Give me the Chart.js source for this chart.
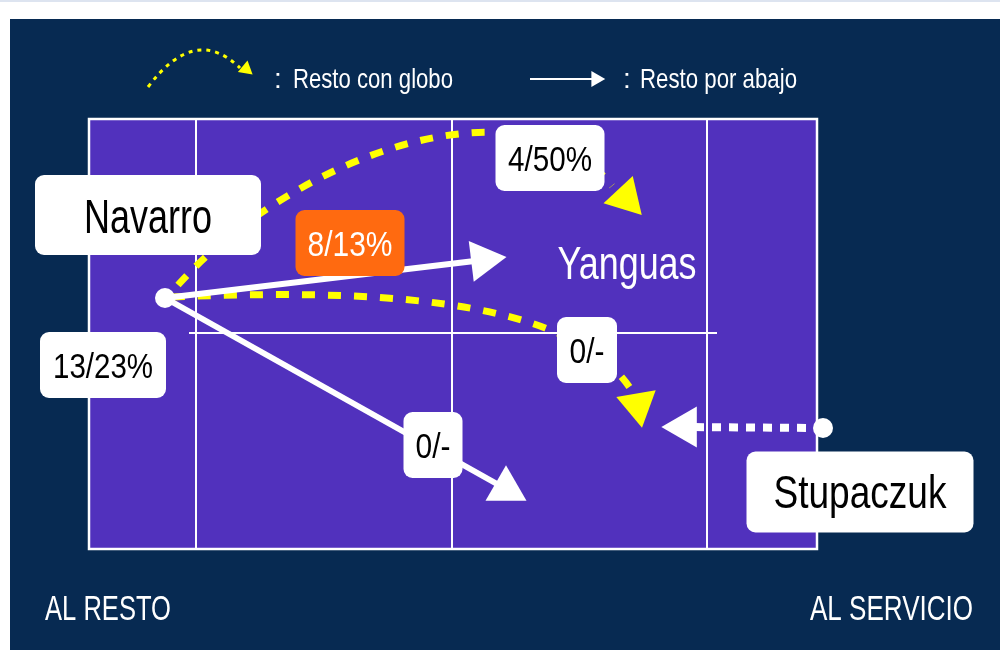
<!DOCTYPE html>
<html>
<head>
<meta charset="utf-8">
<script src="https://cdn.jsdelivr.net/npm/chart.js@4"></script>
<style>
  body { margin: 0; background: #fff; }
  #wrap { width: 1000px; height: 650px; }
</style>
</head>
<body>
<div id="wrap"><canvas id="court"></canvas></div>
<script>
// layout units: the frame is 1000 x 650, y grows downwards
const legendText = ['Resto con globo', 'Resto por abajo'];
const sideText = ['AL RESTO', 'AL SERVICIO'];

const playerNames = ['Navarro', 'Yanguas', 'Stupaczuk'];
const playerDots = [{ x: 165, y: 298 }, { x: 823, y: 428 }];

const courtX = [89, 817];
const courtY = [119, 549];
const courtLinesX = [196, 452, 707];
const centreLineX = [189, 717];
const centreLineY = 333;

// straight returns: start, arrow head centre, head angle (deg)
const flatFrom = [[165, 298], [165, 298], [823, 428]];
const flatTo = [[483, 260], [506, 489], [685, 427]];
const flatAngle = [-7, 30, 180];
const flatDotted = [false, false, true];

// lobs: bezier points, arrow head centre, head angle (deg)
const lobCurves = [
  [[178, 285], [290, 160], [520, 70], [612, 186]],
  [[172, 297], [350, 290], [565, 292], [630, 388]]
];
const lobHeads = [[626, 198], [638, 405]];
const lobAngle = [47, 80];

// return stats
const statText = ['8/13%', '4/50%', '0/-', '0/-', '13/23%'];
const statX = [350, 550, 433, 587, 103];
const statY = [243, 158, 445, 350, 365];
const statW = [109, 109, 59, 60, 126];
const statTextW = [85, 84, 35, 35, 100];

// name tags (Navarro, Stupaczuk) and Yanguas without tag
const tagX = [148, 860];
const tagY = [215, 492];
const tagW = [226, 227];
const tagH = [80, 81];
const yanguasPos = [627, 263];

const FONT = '"Liberation Sans", Arial, sans-serif';
const NAVY = '#072a52';
const PURPLE = '#5131bd';
const YELLOW = '#ffff00';
const ORANGE = '#ff6a10';

function P(chart, x, y) {
  return [chart.scales.x.getPixelForValue(x), chart.scales.y.getPixelForValue(y)];
}

// y is the vertical centre of the capitals; width squeezes the text to a condensed look
function label(ctx, str, x, y, size, color, align, width) {
  ctx.save();
  ctx.font = size + 'px ' + FONT;
  ctx.fillStyle = color;
  ctx.textBaseline = 'alphabetic';
  ctx.textAlign = 'left';
  const w = ctx.measureText(str).width;
  const k = width ? width / w : 1;
  const drawn = w * k;
  let left = x - drawn / 2;
  if (align === 'left') left = x;
  if (align === 'right') left = x - drawn;
  ctx.translate(left, y + size * 0.358);
  ctx.scale(k, 1);
  ctx.fillText(str, 0, 0);
  ctx.restore();
}

function head(ctx, cx, cy, deg, side, color) {
  const r = side / Math.sqrt(3);
  const a = deg * Math.PI / 180;
  ctx.fillStyle = color;
  ctx.beginPath();
  for (let k = 0; k < 3; k++) {
    const t = a + k * 2 * Math.PI / 3;
    ctx.lineTo(cx + r * Math.cos(t), cy + r * Math.sin(t));
  }
  ctx.closePath();
  ctx.fill();
}

function tag(ctx, cx, cy, w, h, fill) {
  ctx.fillStyle = fill;
  ctx.beginPath();
  ctx.roundRect(cx - w / 2, cy - h / 2, w, h, 9);
  ctx.fill();
}

const courtPlugin = {
  id: 'court',
  beforeDraw(chart) {
    const ctx = chart.ctx;
    ctx.save();
    ctx.fillStyle = '#fff';
    ctx.fillRect(0, 0, chart.width, chart.height);
    ctx.fillStyle = '#dde4f0';
    ctx.fillRect(0, 0, chart.width, 2);
    const [x0, y0] = P(chart, 10, 19);
    const [x1, y1] = P(chart, 1000, 650);
    ctx.fillStyle = NAVY;
    ctx.fillRect(x0, y0, x1 - x0, y1 - y0);
    ctx.restore();
  },
  beforeDatasetsDraw(chart) {
    const ctx = chart.ctx;
    ctx.save();
    const [l, t] = P(chart, courtX[0], courtY[0]);
    const [r, b] = P(chart, courtX[1], courtY[1]);
    ctx.fillStyle = PURPLE;
    ctx.fillRect(l, t, r - l, b - t);
    ctx.strokeStyle = '#fff';
    ctx.lineWidth = 2;
    courtLinesX.forEach(v => {
      const [x] = P(chart, v, 0);
      ctx.beginPath();
      ctx.moveTo(x, t);
      ctx.lineTo(x, b);
      ctx.stroke();
    });
    const [cl, cy] = P(chart, centreLineX[0], centreLineY);
    const [cr] = P(chart, centreLineX[1], centreLineY);
    ctx.beginPath();
    ctx.moveTo(cl, cy);
    ctx.lineTo(cr, cy);
    ctx.stroke();
    ctx.lineWidth = 2.5;
    ctx.strokeRect(l, t, r - l, b - t);

    // lobs
    ctx.strokeStyle = YELLOW;
    ctx.lineWidth = 7;
    ctx.setLineDash([13, 13]);
    lobCurves.forEach(c => {
      const p = c.map(q => P(chart, q[0], q[1]));
      ctx.beginPath();
      ctx.moveTo(p[0][0], p[0][1]);
      ctx.bezierCurveTo(p[1][0], p[1][1], p[2][0], p[2][1], p[3][0], p[3][1]);
      ctx.stroke();
    });
    ctx.setLineDash([]);
    lobHeads.forEach((h, i) => {
      const [x, y] = P(chart, h[0], h[1]);
      head(ctx, x, y, lobAngle[i], 40, YELLOW);
    });
    ctx.restore();
  },
  afterDatasetsDraw(chart) {
    const ctx = chart.ctx;
    ctx.save();
    flatTo.forEach((h, i) => {
      const [x, y] = P(chart, h[0], h[1]);
      head(ctx, x, y, flatAngle[i], 41, '#fff');
    });

    // stat boxes
    statText.forEach((s, i) => {
      const [x, y] = P(chart, statX[i], statY[i]);
      const orange = i === 0;
      tag(ctx, x, y, statW[i], 66, orange ? ORANGE : '#fff');
      label(ctx, s, x, y, 35, orange ? '#fff' : '#000', 'center', statTextW[i]);
    });

    // player names
    let [a, b] = P(chart, tagX[0], tagY[0]);
    tag(ctx, a, b, tagW[0], tagH[0], '#fff');
    label(ctx, playerNames[0], a, b, 49, '#000', 'center', 128);
    [a, b] = P(chart, tagX[1], tagY[1]);
    tag(ctx, a, b, tagW[1], tagH[1], '#fff');
    label(ctx, playerNames[2], a, b, 46, '#000', 'center', 173);
    [a, b] = P(chart, yanguasPos[0], yanguasPos[1]);
    label(ctx, playerNames[1], a, b, 46, '#fff', 'center', 139);

    // legend
    [a, b] = P(chart, 148, 87);
    const [c1, c2] = P(chart, 195, 24);
    const [e1, e2] = P(chart, 240, 68);
    ctx.strokeStyle = YELLOW;
    ctx.lineWidth = 3;
    ctx.setLineDash([4, 5]);
    ctx.beginPath();
    ctx.moveTo(a, b);
    ctx.quadraticCurveTo(c1, c2, e1, e2);
    ctx.stroke();
    ctx.setLineDash([]);
    [a, b] = P(chart, 246, 69);
    head(ctx, a, b, 40, 15, YELLOW);
    [a, b] = P(chart, 278, 78);
    label(ctx, ':', a, b, 28, '#fff');
    [a, b] = P(chart, 293, 78);
    label(ctx, legendText[0], a, b, 28, '#fff', 'left', 160);

    ctx.strokeStyle = '#fff';
    ctx.lineWidth = 2;
    [a, b] = P(chart, 530, 79);
    const [f1] = P(chart, 592, 79);
    ctx.beginPath();
    ctx.moveTo(a, b);
    ctx.lineTo(f1, b);
    ctx.stroke();
    [a, b] = P(chart, 596, 79);
    head(ctx, a, b, 0, 16, '#fff');
    [a, b] = P(chart, 627, 78);
    label(ctx, ':', a, b, 28, '#fff');
    [a, b] = P(chart, 640, 78);
    label(ctx, legendText[1], a, b, 28, '#fff', 'left', 157);

    // court sides
    [a, b] = P(chart, 45, 607);
    label(ctx, sideText[0], a, b, 35, '#fff', 'left', 126);
    [a, b] = P(chart, 973, 607);
    label(ctx, sideText[1], a, b, 35, '#fff', 'right', 163);
    ctx.restore();
  }
};

const flatSets = flatFrom.map((f, i) => ({
  type: 'line',
  data: [{ x: f[0], y: f[1] }, { x: flatTo[i][0], y: flatTo[i][1] }],
  showLine: true,
  borderColor: '#fff',
  borderWidth: flatDotted[i] ? 8 : 6,
  borderDash: flatDotted[i] ? [9, 8] : [],
  borderCapStyle: 'butt',
  pointRadius: 0,
  order: 1
}));

new Chart(document.getElementById('court'), {
  type: 'scatter',
  data: {
    datasets: [
      {
        data: playerDots,
        pointRadius: 10,
        pointBackgroundColor: '#fff',
        pointBorderWidth: 0,
        order: 0
      },
      ...flatSets
    ]
  },
  options: {
    responsive: true,
    maintainAspectRatio: false,
    animation: false,
    events: [],
    layout: { padding: 0, autoPadding: false },
    plugins: { legend: { display: false }, tooltip: { enabled: false } },
    scales: {
      x: { type: 'linear', min: 0, max: 1000, display: false },
      y: { type: 'linear', min: 0, max: 650, reverse: true, display: false }
    }
  },
  plugins: [courtPlugin]
});
</script>
</body>
</html>
